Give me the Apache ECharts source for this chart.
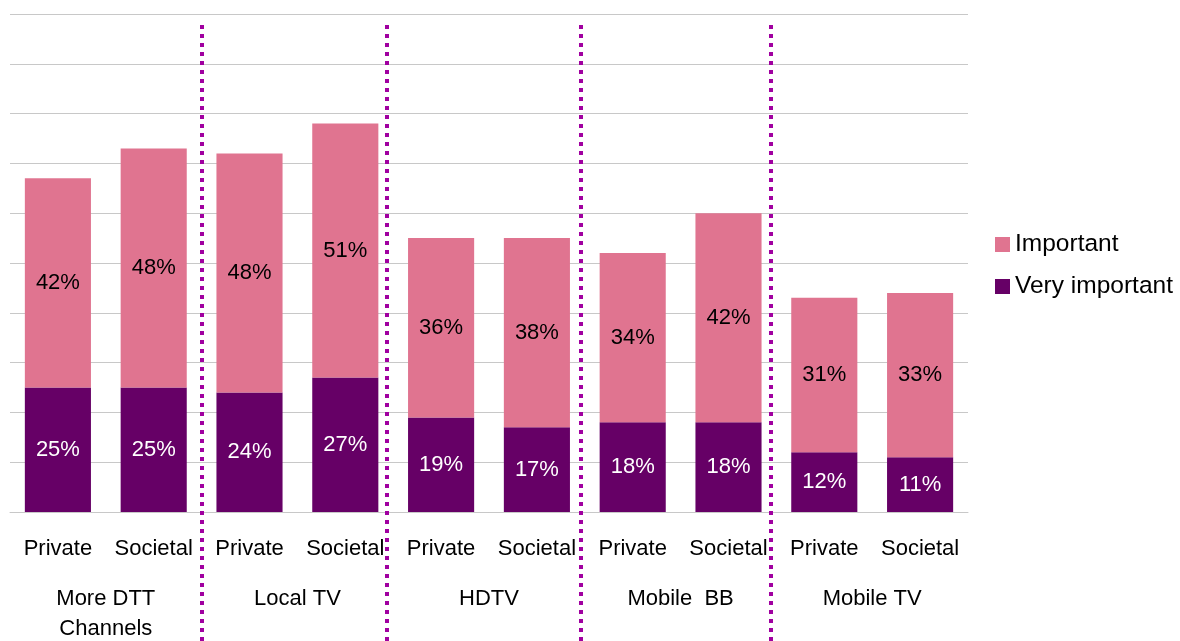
<!DOCTYPE html>
<html>
<head>
<meta charset="utf-8">
<script src="https://cdn.jsdelivr.net/npm/echarts@6/dist/echarts.min.js"></script>
<style>
  html, body { margin: 0; padding: 0; background: #fff; }
  #chart { width: 1180px; height: 641px; }
</style>
</head>
<body>
<div id="chart"></div>
<script>
// bar categories and their groups
var categories = ['Private', 'Societal', 'Private', 'Societal', 'Private', 'Societal', 'Private', 'Societal', 'Private', 'Societal']
var groups = ['More DTT\nChannels', 'Local TV', 'HDTV', 'Mobile  BB', 'Mobile TV']

// values in %
var veryImportant = [25, 25, 24, 27, 19, 17, 18, 18, 12, 11]
var important = [42, 48, 48, 51, 36, 38, 34, 42, 31, 33]

var font = '"Liberation Sans", Arial, sans-serif'

var chart = echarts.init(document.getElementById('chart'))

// dotted separators between groups
var sepX = [202, 387, 581, 771]
var separators = sepX.map(function (x) {
  return {
    type: 'line',
    shape: { x1: x, y1: 25, x2: x, y2: 641 },
    style: { stroke: '#a000a0', lineWidth: 4, lineDash: [4, 5] },
    z: 10
  }
})

var option = {
  animation: false,
  textStyle: { fontFamily: font },
  grid: { left: 10, right: 212, top: 14, bottom: 129, outerBoundsMode: 'none' },
  legend: {
    data: ['Important', 'Very important'],
    orient: 'vertical',
    left: 990,
    top: 227,
    itemWidth: 15,
    itemHeight: 15,
    itemGap: 17,
    icon: 'rect',
    textStyle: { fontSize: 24.5, color: '#000', fontFamily: font }
  },
  xAxis: [
    {
      type: 'category',
      data: categories,
      axisLine: { lineStyle: { color: '#c8c8c8', width: 1 } },
      axisTick: { show: false },
      axisLabel: { color: '#000', fontSize: 22, fontFamily: font, lineHeight: 30, margin: 22, interval: 0 }
    },
    {
      type: 'category',
      data: groups,
      position: 'bottom',
      offset: 50,
      axisLine: { show: false },
      axisTick: { show: false },
      axisLabel: { color: '#000', fontSize: 22, fontFamily: font, lineHeight: 30, margin: 22, interval: 0 }
    }
  ],
  yAxis: {
    type: 'value',
    min: 0,
    max: 100,
    interval: 10,
    axisLabel: { show: false },
    axisLine: { show: false },
    axisTick: { show: false },
    splitLine: { lineStyle: { color: '#c8c8c8', width: 1 } }
  },
  series: [
    {
      name: 'Very important',
      type: 'bar',
      stack: 'total',
      barCategoryGap: '31%',
      itemStyle: { color: '#660066' },
      label: {
        show: true,
        position: 'inside',
        color: '#fff',
        fontSize: 22,
        fontFamily: font,
        formatter: '{c}%'
      },
      data: veryImportant
    },
    {
      name: 'Important',
      type: 'bar',
      stack: 'total',
      barCategoryGap: '31%',
      itemStyle: { color: '#e07490' },
      label: {
        show: true,
        position: 'inside',
        color: '#000',
        fontSize: 22,
        fontFamily: font,
        formatter: '{c}%'
      },
      data: important
    }
  ],
  graphic: separators
}

chart.setOption(option)
</script>
</body>
</html>
